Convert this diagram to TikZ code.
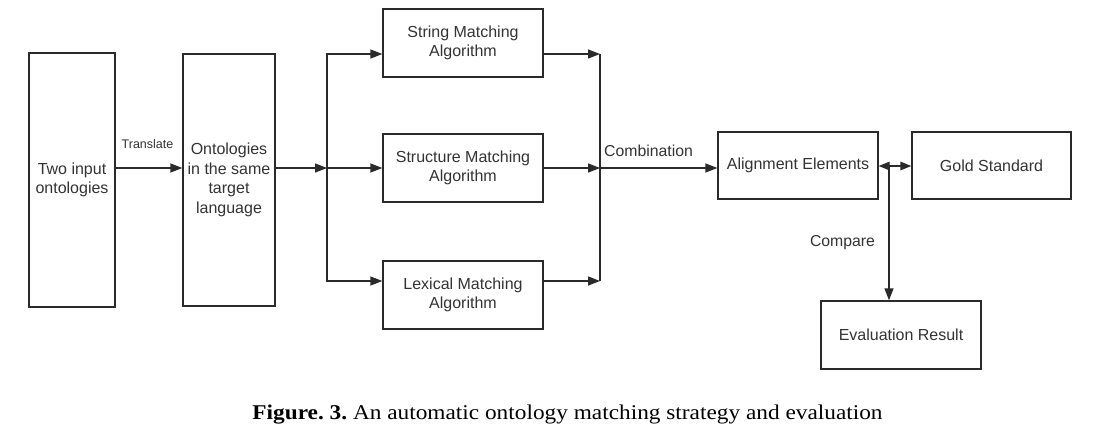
\documentclass[tikz,border=0pt]{standalone}
\usepackage{fontspec}
\setmainfont{Liberation Serif}
\newfontfamily\arial{Liberation Sans}
\newfontfamily\capfont[FakeStretch=1.11]{Liberation Serif}
\usetikzlibrary{arrows.meta,calc}
\definecolor{ln}{HTML}{2a2a2a}
\definecolor{tx}{HTML}{333333}
\tikzset{
  box/.style={draw=ln, line width=1.3pt, fill=white, inner sep=2pt, align=center,
    text=tx, font=\arial\fontsize{16}{19.5}\selectfont},
  lbl/.style={text=tx, font=\arial\fontsize{15.8}{18}\selectfont, inner sep=0pt},
  arr/.style={draw=ln, line width=1.3pt, -{Triangle[length=12pt,width=9pt]}},
  arrb/.style={draw=ln, line width=1.3pt, {Triangle[length=11pt,width=8.5pt]}-{Triangle[length=11pt,width=8.5pt]}},
  ln/.style={draw=ln, line width=1.3pt}
}
\begin{document}
\frenchspacing
\begin{tikzpicture}[x=1pt,y=-1pt]
\useasboundingbox (0,0) rectangle (1102,447);
\fill[white] (0,0) rectangle (1102,447);
\node[box, minimum width=86pt, minimum height=254pt] (A) at (72,180) {Two input\\ontologies};
\node[box, minimum width=92pt, minimum height=252pt] (B) at (229,180) {Ontologies\\in the same\\target\\language};
\node[box, minimum width=160pt, minimum height=68pt] (S) at (463,43) {String Matching\\Algorithm};
\node[box, minimum width=160pt, minimum height=68pt] (M) at (463,168) {Structure Matching\\Algorithm};
\node[box, minimum width=160pt, minimum height=68pt] (L) at (463,295) {Lexical Matching\\Algorithm};
\node[box, minimum width=160pt, minimum height=67pt] (Al) at (798,165.5) {Alignment Elements};
\node[box, minimum width=159pt, minimum height=67pt] (G) at (991.5,165.5) {Gold Standard};
\node[box, minimum width=160pt, minimum height=68pt] (E) at (901,335) {Evaluation Result};

\coordinate (sp) at (327,168);
\coordinate (mg) at (600,168);
\coordinate (cp) at (889,166);

\draw[arr] (A.east |- M) -- (B.west |- M);
\node[lbl, font=\arial\fontsize{12.5}{14}\selectfont] (tl) at (147.5,144) {Translate};
\draw[arr] (B.east |- M) -- (sp);
\draw[arr] (sp) |- (S.west |- 0,54);
\draw[arr] (sp) -- (M.west);
\draw[arr] (sp) |- (L.west |- 0,281);
\draw[arr] (S.east |- 0,54) -- (mg |- 0,54);
\draw[arr] (M.east) -- (mg);
\draw[arr] (L.east |- 0,281) -- (mg |- 0,281);
\draw[ln] (mg |- 0,54) -- (mg |- 0,281);
\draw[arr] (mg) -- (Al.west |- mg);
\node[lbl] (cb) at (648.5,151) {Combination};
\draw[arrb] (Al.east |- cp) -- (G.west |- cp);
\draw[arr] (cp) -- (E.north -| cp);
\node[lbl] (cmp) at (842.5,243) {Compare};

\node[inner sep=0pt, anchor=base, font=\capfont\fontsize{21}{24}\selectfont] (cap) at (567.5,419) {\textbf{Figure. 3.} An automatic ontology matching strategy and evaluation};
\end{tikzpicture}
\end{document}
